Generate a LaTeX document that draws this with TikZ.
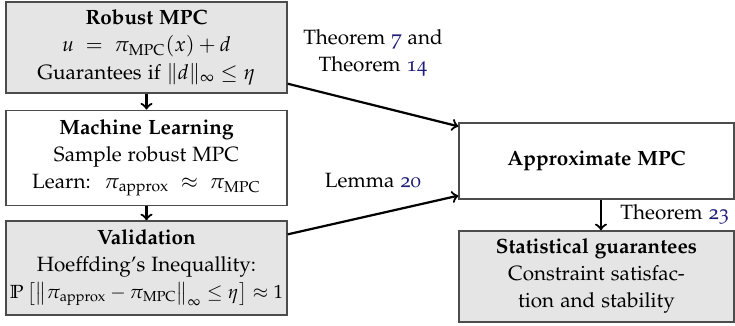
\documentclass[tikz,border=0pt]{standalone}
\usepackage[T1]{fontenc}
\usepackage[osf]{mathpazo}
\usepackage{amsmath}
\usepackage{amssymb}
\usepackage{graphicx}
\usepackage{tikz}
\usetikzlibrary{positioning,calc}

\definecolor{refblue}{RGB}{30,30,120}
\newcommand{\refnum}[1]{\textcolor{refblue}{#1}}

\begin{document}
\begin{tikzpicture}[x=0.45pt,y=-0.45pt,
        every node/.style={font=\fontsize{9.3}{12.2}\selectfont},
        box/.style={draw=black!70, line width=0.6pt, align=center, inner sep=0pt},
        shaded/.style={box, fill=black!10},
        conn/.style={->, line width=1pt},
        lbl/.style={align=center, inner sep=0pt}]
    \useasboundingbox (0,0) rectangle (735,326);
    % left column
    \node[shaded, minimum width=126.5pt, minimum height=41pt] (robust) at (146.5,47.5)
        {\textbf{Robust MPC}\\ $u \;=\; \pi_{\text{MPC}}(x) + d$\\ Guarantees if $\|d\|_\infty \le \eta$};
    \node[box, minimum width=126.5pt, minimum height=43pt] (learn) at (146.5,158)
        {\textbf{Machine Learning}\\ Sample robust MPC\\ Learn: \ $\pi_{\text{approx}} \;\approx\; \pi_{\text{MPC}}$};
    \node[shaded, minimum width=126.5pt, minimum height=42.3pt] (valid) at (146.5,268)
        {\textbf{Validation}\\ Hoeffding's Inequallity:\\
         \scalebox{0.92}{$\mathbb{P}\,\bigl[\bigl\|\pi_{\text{approx}} - \pi_{\text{MPC}}\bigr\|_\infty \le \eta\bigr] \approx 1$}};
    % right column
    \node[box, minimum width=123.75pt, minimum height=34.2pt] (approx) at (596.5,161)
        {\textbf{Approximate MPC}};
    \node[shaded, minimum width=123.75pt, minimum height=41pt] (stat) at (596.5,276.5)
        {\textbf{Statistical guarantees}\\ Constraint satisfac-\\ tion and stability};
    % connectors
    \draw[conn] (robust.south) -- (learn.north);
    \draw[conn] (learn.south) -- (valid.north);
    \draw[conn] ([yshift=4.5pt]robust.south east) -- ([yshift=-1.8pt]approx.north west);
    \draw[conn] ([yshift=-6.3pt]valid.north east) -- ([yshift=1.8pt]approx.south west);
    \draw[conn] ([xshift=2pt]approx.south) -- ([xshift=2pt]stat.north);
    % labels
    \node[lbl] (thmA) at (373,53) {Theorem \refnum{7} and\\ Theorem \refnum{14}};
    \node[lbl] (lemma) at (373,181) {Lemma \refnum{20}};
    \node[lbl, anchor=west] (thmB) at (620,214) {Theorem \refnum{23}};
\end{tikzpicture}
\end{document}
